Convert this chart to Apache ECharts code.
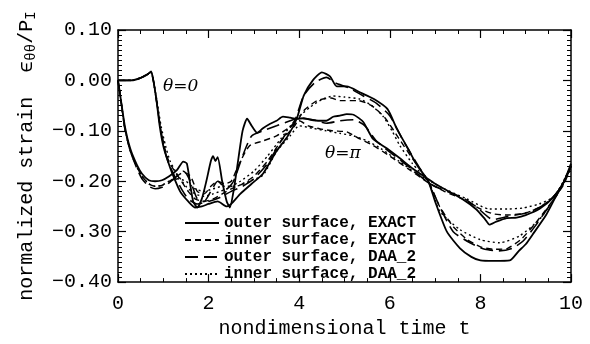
<!DOCTYPE html>
<html><head><meta charset="utf-8">
<script src="https://cdn.jsdelivr.net/npm/echarts@6/dist/echarts.min.js"></script>
<style>html,body{margin:0;padding:0;background:#fff}#c{width:590px;height:344px}</style>
</head><body><div id="c"></div>
<script>
// ---- data ----
const xTicks = [0, 2, 4, 6, 8, 10];
const yTicks = [0.10, 0.00, -0.10, -0.20, -0.30, -0.40];
const legendNames = ['outer surface, EXACT', 'inner surface, EXACT', 'outer surface, DAA_2', 'inner surface, DAA_2'];

// theta = 0
const t0OuterExact = [0,0.3,0.5,0.65,0.73,0.78,0.85,0.92,1.0,1.1,1.2,1.37,1.55,1.7,1.85,2.0,2.2,2.4,2.5,2.7,2.95,3.2,3.5,3.75,3.95,4.1,4.3,4.5,4.68,4.83,5.05,5.35,5.65,5.95,6.15,6.4,6.6,6.85,7.0,7.26,7.55,7.8,8.0,8.3,8.65,8.85,9.0,9.15,9.45,9.65,9.85,10];
const v0OuterExact = [0,0,0.005,0.012,0.018,0.0,-0.04,-0.09,-0.13,-0.16,-0.185,-0.22,-0.24,-0.252,-0.25,-0.245,-0.24,-0.25,-0.245,-0.225,-0.205,-0.185,-0.14,-0.11,-0.075,-0.03,0.0,0.016,0.008,-0.012,-0.012,-0.024,-0.037,-0.057,-0.095,-0.135,-0.168,-0.2,-0.24,-0.3,-0.333,-0.35,-0.357,-0.358,-0.357,-0.338,-0.325,-0.306,-0.267,-0.233,-0.2,-0.165];

const t0InnerExact = [0,0.3,0.5,0.65,0.73,0.78,0.85,0.93,1.02,1.12,1.25,1.4,1.55,1.7,1.9,2.1,2.3,2.5,2.75,3.0,3.3,3.6,3.9,4.1,4.4,4.7,4.9,5.3,5.6,5.9,6.2,6.5,6.85,7.1,7.4,7.7,8.0,8.3,8.6,8.9,9.2,9.5,9.65,9.85,10];
const v0InnerExact = [0,0,0.005,0.012,0.016,0.0,-0.04,-0.09,-0.13,-0.16,-0.18,-0.2,-0.22,-0.235,-0.24,-0.235,-0.225,-0.215,-0.205,-0.19,-0.16,-0.12,-0.09,-0.06,-0.04,-0.035,-0.04,-0.04,-0.05,-0.075,-0.115,-0.155,-0.2,-0.25,-0.29,-0.315,-0.33,-0.335,-0.333,-0.315,-0.285,-0.25,-0.232,-0.205,-0.17];

const t0OuterDaa = [0,0.3,0.5,0.65,0.73,0.78,0.85,0.93,1.02,1.12,1.25,1.4,1.55,1.75,2.0,2.25,2.5,2.75,3.0,3.3,3.6,3.9,4.1,4.35,4.6,4.8,5.1,5.4,5.7,6.0,6.3,6.6,6.87,7.1,7.4,7.77,8.1,8.4,8.7,8.95,9.2,9.45,9.65,9.85,10];
const v0OuterDaa = [0,0,0.005,0.012,0.016,0.0,-0.04,-0.09,-0.135,-0.165,-0.19,-0.215,-0.235,-0.245,-0.24,-0.232,-0.22,-0.21,-0.195,-0.165,-0.12,-0.08,-0.03,-0.004,0.006,-0.005,-0.015,-0.03,-0.045,-0.07,-0.12,-0.165,-0.204,-0.25,-0.3,-0.322,-0.335,-0.338,-0.333,-0.318,-0.29,-0.258,-0.232,-0.2,-0.168];

const t0InnerDaa = [0,0.3,0.5,0.65,0.73,0.78,0.86,0.95,1.05,1.15,1.3,1.5,1.7,1.9,2.1,2.4,2.7,3.0,3.3,3.6,3.9,4.24,4.5,4.75,5.0,5.34,5.6,5.85,6.05,6.22,6.5,6.87,7.1,7.55,8.0,8.43,8.87,9.3,9.55,9.8,10];
const v0InnerDaa = [0,0,0.005,0.012,0.016,0.0,-0.04,-0.09,-0.13,-0.16,-0.185,-0.21,-0.225,-0.23,-0.225,-0.215,-0.2,-0.18,-0.15,-0.115,-0.08,-0.053,-0.038,-0.031,-0.033,-0.037,-0.05,-0.071,-0.1,-0.129,-0.165,-0.204,-0.259,-0.296,-0.316,-0.322,-0.308,-0.276,-0.245,-0.205,-0.17];

// theta = pi
const tPiOuterExact = [0,0.05,0.15,0.27,0.42,0.53,0.68,0.82,0.97,1.13,1.3,1.44,1.52,1.6,1.66,1.75,1.85,1.95,2.05,2.1,2.15,2.2,2.3,2.4,2.47,2.55,2.65,2.75,2.85,2.95,3.07,3.2,3.36,3.5,3.64,3.8,3.95,4.1,4.25,4.45,4.6,4.75,4.9,5.05,5.2,5.41,5.63,5.94,6.23,6.51,6.82,7.0,7.3,7.6,7.9,8.1,8.2,8.35,8.58,8.8,9.0,9.3,9.6,9.82,10];
const vPiOuterExact = [0,-0.03,-0.09,-0.135,-0.168,-0.185,-0.198,-0.2,-0.198,-0.19,-0.178,-0.161,-0.165,-0.21,-0.24,-0.252,-0.235,-0.2,-0.16,-0.15,-0.16,-0.152,-0.2,-0.24,-0.252,-0.22,-0.16,-0.1,-0.076,-0.09,-0.104,-0.095,-0.086,-0.08,-0.072,-0.074,-0.076,-0.075,-0.078,-0.08,-0.08,-0.072,-0.07,-0.067,-0.068,-0.082,-0.116,-0.135,-0.155,-0.175,-0.194,-0.205,-0.22,-0.235,-0.255,-0.275,-0.286,-0.28,-0.273,-0.272,-0.267,-0.255,-0.233,-0.205,-0.17];

const tPiInnerExact = [0,0.05,0.15,0.27,0.42,0.53,0.68,0.82,0.97,1.13,1.3,1.45,1.6,1.75,1.9,2.05,2.2,2.35,2.5,2.65,2.9,3.2,3.5,3.8,4.0,4.2,4.46,4.75,5.05,5.34,5.63,6.0,6.4,6.87,7.2,7.6,8.0,8.3,8.6,9.0,9.3,9.6,9.82,10];
const vPiInnerExact = [0,-0.03,-0.095,-0.14,-0.172,-0.19,-0.205,-0.21,-0.208,-0.2,-0.19,-0.182,-0.19,-0.22,-0.225,-0.21,-0.2,-0.205,-0.2,-0.17,-0.13,-0.12,-0.11,-0.092,-0.08,-0.09,-0.096,-0.1,-0.102,-0.116,-0.129,-0.15,-0.175,-0.204,-0.22,-0.235,-0.255,-0.265,-0.267,-0.263,-0.252,-0.232,-0.205,-0.172];

const tPiOuterDaa = [0,0.05,0.15,0.27,0.42,0.53,0.68,0.82,0.97,1.13,1.3,1.45,1.6,1.75,1.9,2.05,2.2,2.4,2.55,2.75,2.95,3.2,3.5,3.8,4.0,4.3,4.6,4.9,5.2,5.45,5.7,6.0,6.4,6.87,7.2,7.6,7.9,8.28,8.6,9.0,9.3,9.6,9.82,10];
const vPiOuterDaa = [0,-0.03,-0.095,-0.14,-0.175,-0.195,-0.21,-0.215,-0.212,-0.203,-0.19,-0.18,-0.2,-0.235,-0.24,-0.22,-0.2,-0.215,-0.2,-0.15,-0.11,-0.1,-0.09,-0.08,-0.075,-0.078,-0.085,-0.08,-0.078,-0.09,-0.12,-0.142,-0.17,-0.204,-0.218,-0.232,-0.25,-0.276,-0.27,-0.263,-0.252,-0.232,-0.205,-0.17];

const tPiInnerDaa = [0,0.05,0.15,0.27,0.42,0.53,0.68,0.82,0.97,1.13,1.3,1.5,1.7,1.9,2.1,2.3,2.5,2.7,2.9,3.2,3.5,3.8,4.0,4.3,4.6,4.9,5.2,5.5,5.8,6.2,6.6,6.9,7.2,7.7,8.2,8.6,8.94,9.3,9.6,9.82,10];
const vPiInnerDaa = [0,-0.03,-0.095,-0.14,-0.172,-0.19,-0.205,-0.21,-0.208,-0.2,-0.195,-0.2,-0.215,-0.22,-0.215,-0.21,-0.21,-0.208,-0.2,-0.188,-0.141,-0.11,-0.09,-0.095,-0.1,-0.105,-0.11,-0.12,-0.135,-0.16,-0.185,-0.2,-0.215,-0.235,-0.255,-0.255,-0.253,-0.245,-0.232,-0.207,-0.175];

// ---- chart ----
const FONT = 'Liberation Mono';
const styles = [
  {type: 'solid', width: 1.8},
  {type: [6, 4], width: 1.4},
  {type: [13, 6], width: 1.6},
  {type: [2, 3], width: 1.4}
];
const zip = (t, v) => t.map((x, i) => [x, v[i]]);
const curves = [
  [0, t0OuterExact, v0OuterExact], [1, t0InnerExact, v0InnerExact],
  [2, t0OuterDaa, v0OuterDaa], [3, t0InnerDaa, v0InnerDaa],
  [0, tPiOuterExact, vPiOuterExact], [1, tPiInnerExact, vPiInnerExact],
  [2, tPiOuterDaa, vPiOuterDaa], [3, tPiInnerDaa, vPiInnerDaa]
];
const series = curves.map(([k, t, v]) => ({
  type: 'line', name: legendNames[k], data: zip(t, v),
  showSymbol: false, symbol: 'none', smooth: 0.2,
  lineStyle: {color: '#000', type: styles[k].type, width: styles[k].width},
  itemStyle: {color: '#000'}, silent: true, animation: false
}));

const chart = echarts.init(document.getElementById('c'), null, {renderer: 'canvas'});
const axisLine = {show: true, onZero: false, lineStyle: {color: '#000', width: 1.5}};
const fmtY = v => (v < -1e-9 ? '\u2212' : '') + Math.abs(v).toFixed(2);
chart.setOption({
  animation: false,
  backgroundColor: '#fff',
  grid: {left: 118, right: 19, top: 30, bottom: 59},
  legend: {
    show: true,
    data: legendNames.map(n => ({name: n})), orient: 'vertical', left: 184, top: 215,
    itemWidth: 34, itemHeight: 14, itemGap: 1, padding: 0,
    itemStyle: {opacity: 0, borderWidth: 0},
    textStyle: {fontFamily: FONT, fontSize: 16, fontWeight: 'bold', color: '#000'},
    selectedMode: false
  },
  xAxis: [{
    type: 'value', min: 0, max: 10, interval: 2, position: 'bottom',
    name: 'nondimensional time t', nameLocation: 'middle', nameGap: 24,
    nameTextStyle: {fontFamily: FONT, fontSize: 20, color: '#000'},
    axisLine, splitLine: {show: false},
    axisTick: {inside: true, length: 8, lineStyle: {color: '#000', width: 1.2}},
    minorTick: {show: true, splitNumber: 4, length: 4, lineStyle: {color: '#000', width: 1}},
    axisLabel: {fontFamily: FONT, fontSize: 20, color: '#000', margin: 12,
      formatter: v => xTicks.includes(v) ? String(v) : ''}
  }, {
    type: 'value', min: 0, max: 10, interval: 2, position: 'top',
    axisLine, splitLine: {show: false}, axisLabel: {show: false},
    axisTick: {inside: true, length: 8, lineStyle: {color: '#000', width: 1.2}},
    minorTick: {show: true, splitNumber: 4, length: 4, lineStyle: {color: '#000', width: 1}}
  }],
  yAxis: [{
    type: 'value', min: -0.4, max: 0.1, interval: 0.1, position: 'left',
    name: '{n|normalized strain  \u03F5}{s|\u03B8\u03B8}{n|/P}{s|I}', nameLocation: 'middle', nameGap: 80,
    nameRotate: 90,
    nameTextStyle: {rich: {
      n: {fontFamily: FONT, fontSize: 20, color: '#000'},
      s: {fontFamily: FONT, fontSize: 14, color: '#000', verticalAlign: 'bottom', padding: [8, 0, 0, 0]}
    }},
    axisLine, splitLine: {show: false},
    axisTick: {inside: true, length: 8, lineStyle: {color: '#000', width: 1.2}},
    minorTick: {show: true, splitNumber: 10, length: 4, lineStyle: {color: '#000', width: 1}},
    axisLabel: {fontFamily: FONT, fontSize: 20, color: '#000', margin: 6,
      formatter: v => yTicks.some(y => Math.abs(y - v) < 1e-6) ? fmtY(v) : ''}
  }, {
    type: 'value', min: -0.4, max: 0.1, interval: 0.1, position: 'right',
    axisLine, splitLine: {show: false}, axisLabel: {show: false},
    axisTick: {inside: true, length: 8, lineStyle: {color: '#000', width: 1.2}},
    minorTick: {show: true, splitNumber: 10, length: 4, lineStyle: {color: '#000', width: 1}}
  }],
  graphic: [
    {type: 'text', left: 163, top: 78, silent: true,
     style: {text: '\u03B8=0', font: 'italic 17px "DejaVu Serif"', fill: '#000'}},
    {type: 'text', left: 325, top: 145, silent: true,
     style: {text: '\u03B8=\u03C0', font: 'italic 17px "DejaVu Serif"', fill: '#000'}}
  ],
  series
});
</script></body></html>
